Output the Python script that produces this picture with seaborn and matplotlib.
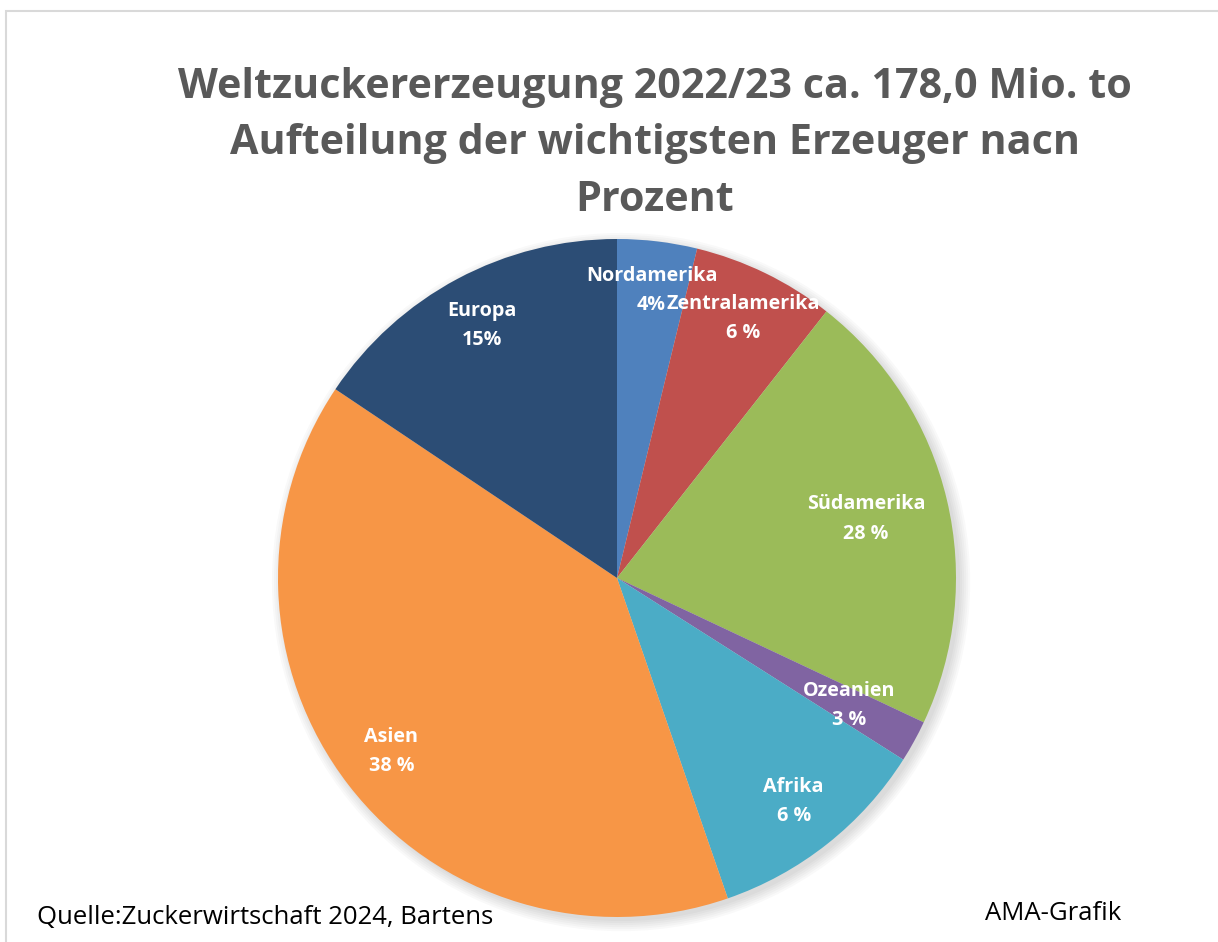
import matplotlib
matplotlib.use('Agg')
import matplotlib.pyplot as plt
import numpy as np
import seaborn as sns

# regions, clockwise from 12 o'clock
regions = ['Nordamerika', 'Zentralamerika', 'Südamerika', 'Ozeanien', 'Afrika', 'Asien', 'Europa']
# slice sizes as drawn in the chart (%)
shares = [3.8, 6.8, 21.4, 2.0, 10.7, 39.7, 15.6]
# the percentage texts printed on the slices
pct_labels = ['4%', '6 %', '28 %', '3 %', '6 %', '38 %', '15%']
colors = ['#4F81BD', '#C0504D', '#9BBB59', '#8064A2', '#4BACC6', '#F79646', '#2C4D75']
label_radius = [0.855, 0.85, 0.755, 0.78, 0.84, 0.84, 0.845]

sns.set_theme(style='white')
plt.rcParams['font.family'] = ['Open Sans', 'DejaVu Sans']

fig = plt.figure(figsize=(12.18, 9.42), dpi=100)
W, H = 1218, 942
cx, cy, R = 617, 578, 339
ax = fig.add_axes([(cx - R) / W, (H - cy - R) / H, 2 * R / W, 2 * R / H])

# soft shadow behind the pie
for k in range(6):
    ax.add_patch(plt.Circle((0.012, -0.012), 1 + 0.006 * k, color='black',
                            alpha=0.025, zorder=0, lw=0, clip_on=False))

wedges, _ = ax.pie(shares, colors=colors, startangle=90, counterclock=False,
                   radius=1, wedgeprops=dict(linewidth=0, zorder=2))

for w, name, pct, r in zip(wedges, regions, pct_labels, label_radius):
    mid = np.deg2rad((w.theta1 + w.theta2) / 2)
    ax.text(r * np.cos(mid), r * np.sin(mid), f'{name}\n{pct}', ha='center', va='center',
            color='white', fontsize=14.2, fontweight='bold', linespacing=1.62, zorder=3)

ax.set_xlim(-1, 1)
ax.set_ylim(-1, 1)
ax.set_aspect('equal')
ax.axis('off')

fig.text(655 / W, 1 - 144 / H,
         'Weltzuckererzeugung 2022/23 ca. 178,0 Mio. to\nAufteilung der wichtigsten Erzeuger nacn\nProzent',
         ha='center', va='center', fontsize=29.7, fontweight='bold', color='#595959', linespacing=1.5)

fig.text(37 / W, 1 - 918 / H, 'Quelle:Zuckerwirtschaft 2024, Bartens',
         ha='left', va='center', fontsize=18.5, color='black')
fig.text(985 / W, 1 - 913 / H, 'AMA-Grafik', ha='left', va='center', fontsize=18.5, color='black')

border = plt.Rectangle((6 / W, -0.01), 1.0, 1 - 11 / H + 0.01, transform=fig.transFigure,
                       fill=False, edgecolor='#D9D9D9', linewidth=1.5)
fig.patches.append(border)

fig.savefig('out.png', dpi=100)
